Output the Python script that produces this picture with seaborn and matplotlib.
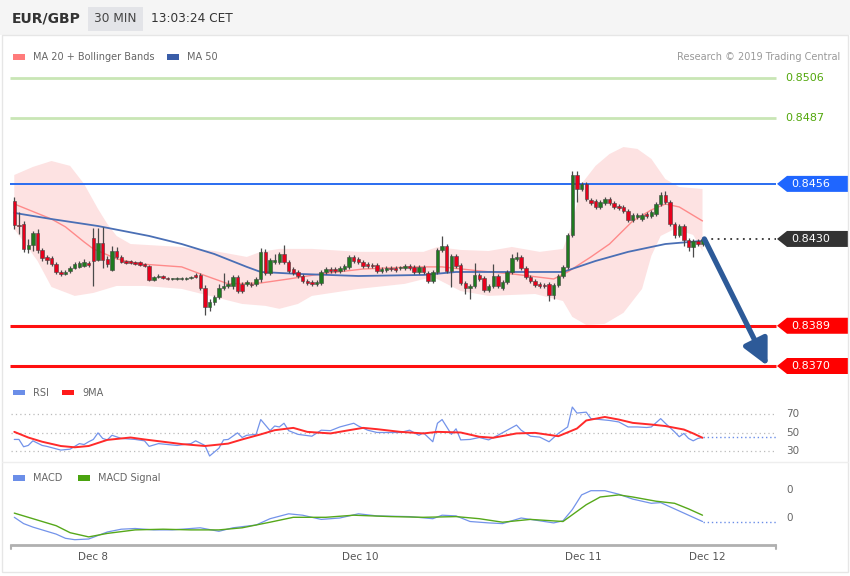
import matplotlib
matplotlib.use("Agg")
import matplotlib.pyplot as plt
from matplotlib.patches import Rectangle, Polygon
import numpy as np
import seaborn as sns

sns.set_theme(style="white")
plt.rcParams["font.family"] = ["DejaVu Sans"]

# EUR/GBP 30 min candles (price)
opens = [
    0.84479, 0.84366, 0.84371, 0.84253, 0.84272, 0.84328, 0.84248, 0.84215, 0.84210, 0.84182,
    0.84144, 0.84135, 0.84149, 0.84163, 0.84168, 0.84173, 0.84187, 0.84305, 0.84201, 0.84281,
    0.84206, 0.84154, 0.84243, 0.84215, 0.84196, 0.84196, 0.84191, 0.84191, 0.84182, 0.84173,
    0.84106, 0.84121, 0.84125, 0.84116, 0.84111, 0.84111, 0.84111, 0.84111, 0.84116, 0.84130,
    0.84130, 0.84069, 0.83979, 0.84003, 0.84026, 0.84069, 0.84078, 0.84078, 0.84121, 0.84088,
    0.84088, 0.84088, 0.84088, 0.84111, 0.84239, 0.84140, 0.84191, 0.84191, 0.84229, 0.84191,
    0.84158, 0.84144, 0.84125, 0.84102, 0.84097, 0.84088, 0.84092, 0.84144, 0.84158, 0.84158,
    0.84149, 0.84158, 0.84168, 0.84215, 0.84206, 0.84191, 0.84182, 0.84177, 0.84177, 0.84149,
    0.84154, 0.84163, 0.84163, 0.84163, 0.84163, 0.84173, 0.84168, 0.84144, 0.84168, 0.84140,
    0.84102, 0.84144, 0.84248, 0.84267, 0.84149, 0.84220, 0.84177, 0.84092, 0.84069, 0.84078,
    0.84130, 0.84116, 0.84059, 0.84078, 0.84125, 0.84069, 0.84097, 0.84144, 0.84206, 0.84215,
    0.84163, 0.84121, 0.84102, 0.84088, 0.84083, 0.84088, 0.84036, 0.84083, 0.84125, 0.84168,
    0.84319, 0.84602, 0.84536, 0.84560, 0.84484, 0.84479, 0.84451, 0.84470, 0.84489, 0.84470,
    0.84456, 0.84451, 0.84432, 0.84390, 0.84404, 0.84394, 0.84418, 0.84409, 0.84418, 0.84465,
    0.84508, 0.84475, 0.84371, 0.84319, 0.84361, 0.84295, 0.84262, 0.84291, 0.84276,
]
closes = [
    0.84366, 0.84361, 0.84253, 0.84272, 0.84328, 0.84248, 0.84210, 0.84201, 0.84182, 0.84144,
    0.84135, 0.84144, 0.84163, 0.84182, 0.84187, 0.84191, 0.84177, 0.84196, 0.84281, 0.84201,
    0.84182, 0.84243, 0.84215, 0.84191, 0.84187, 0.84187, 0.84182, 0.84177, 0.84173, 0.84106,
    0.84121, 0.84125, 0.84116, 0.84111, 0.84111, 0.84116, 0.84116, 0.84116, 0.84121, 0.84121,
    0.84069, 0.83979, 0.84003, 0.84026, 0.84069, 0.84078, 0.84088, 0.84121, 0.84054, 0.84054,
    0.84097, 0.84083, 0.84111, 0.84239, 0.84140, 0.84201, 0.84201, 0.84229, 0.84191, 0.84149,
    0.84140, 0.84125, 0.84102, 0.84092, 0.84088, 0.84097, 0.84144, 0.84158, 0.84149, 0.84149,
    0.84163, 0.84173, 0.84215, 0.84196, 0.84191, 0.84173, 0.84173, 0.84173, 0.84149, 0.84158,
    0.84163, 0.84158, 0.84154, 0.84163, 0.84173, 0.84163, 0.84144, 0.84168, 0.84144, 0.84102,
    0.84144, 0.84248, 0.84267, 0.84149, 0.84220, 0.84173, 0.84092, 0.84069, 0.84078, 0.84130,
    0.84111, 0.84059, 0.84078, 0.84125, 0.84078, 0.84097, 0.84144, 0.84210, 0.84215, 0.84163,
    0.84121, 0.84102, 0.84083, 0.84078, 0.84078, 0.84036, 0.84083, 0.84125, 0.84168, 0.84319,
    0.84602, 0.84536, 0.84560, 0.84489, 0.84470, 0.84451, 0.84475, 0.84489, 0.84470, 0.84451,
    0.84446, 0.84432, 0.84390, 0.84413, 0.84413, 0.84413, 0.84409, 0.84427, 0.84465, 0.84508,
    0.84475, 0.84371, 0.84319, 0.84361, 0.84295, 0.84262, 0.84291, 0.84276, 0.84300,
]
highs = [
    0.84498, 0.84427, 0.84385, 0.84300, 0.84338, 0.84347, 0.84258, 0.84224, 0.84220, 0.84191,
    0.84154, 0.84154, 0.84173, 0.84191, 0.84196, 0.84206, 0.84196, 0.84352, 0.84352, 0.84357,
    0.84220, 0.84267, 0.84262, 0.84224, 0.84201, 0.84201, 0.84196, 0.84196, 0.84187, 0.84177,
    0.84125, 0.84135, 0.84130, 0.84121, 0.84116, 0.84121, 0.84121, 0.84121, 0.84125, 0.84140,
    0.84140, 0.84083, 0.84017, 0.84036, 0.84088, 0.84140, 0.84106, 0.84130, 0.84130, 0.84097,
    0.84106, 0.84097, 0.84121, 0.84258, 0.84253, 0.84210, 0.84229, 0.84239, 0.84272, 0.84201,
    0.84168, 0.84154, 0.84135, 0.84111, 0.84106, 0.84106, 0.84154, 0.84168, 0.84168, 0.84168,
    0.84173, 0.84182, 0.84224, 0.84224, 0.84215, 0.84201, 0.84191, 0.84187, 0.84187, 0.84168,
    0.84173, 0.84173, 0.84173, 0.84173, 0.84182, 0.84182, 0.84177, 0.84177, 0.84177, 0.84149,
    0.84154, 0.84258, 0.84314, 0.84276, 0.84229, 0.84229, 0.84187, 0.84102, 0.84088, 0.84187,
    0.84140, 0.84125, 0.84088, 0.84182, 0.84135, 0.84106, 0.84154, 0.84229, 0.84239, 0.84224,
    0.84173, 0.84130, 0.84111, 0.84097, 0.84092, 0.84097, 0.84092, 0.84135, 0.84177, 0.84328,
    0.84621, 0.84621, 0.84569, 0.84569, 0.84494, 0.84489, 0.84484, 0.84498, 0.84498, 0.84479,
    0.84465, 0.84460, 0.84442, 0.84423, 0.84423, 0.84423, 0.84427, 0.84437, 0.84475, 0.84522,
    0.84527, 0.84484, 0.84380, 0.84371, 0.84371, 0.84305, 0.84300, 0.84300, 0.84309,
]
lows = [
    0.84347, 0.84324, 0.84239, 0.84234, 0.84243, 0.84234, 0.84196, 0.84182, 0.84173, 0.84135,
    0.84125, 0.84130, 0.84140, 0.84158, 0.84163, 0.84168, 0.84168, 0.84078, 0.84196, 0.84163,
    0.84168, 0.84149, 0.84206, 0.84187, 0.84182, 0.84182, 0.84177, 0.84173, 0.84168, 0.84102,
    0.84102, 0.84116, 0.84111, 0.84106, 0.84106, 0.84106, 0.84106, 0.84106, 0.84111, 0.84116,
    0.84059, 0.83941, 0.83960, 0.83988, 0.84017, 0.84059, 0.84069, 0.84064, 0.84045, 0.84045,
    0.84078, 0.84073, 0.84078, 0.84097, 0.84130, 0.84130, 0.84182, 0.84182, 0.84182, 0.84140,
    0.84130, 0.84116, 0.84092, 0.84083, 0.84078, 0.84078, 0.84083, 0.84135, 0.84140, 0.84140,
    0.84140, 0.84149, 0.84158, 0.84187, 0.84182, 0.84163, 0.84163, 0.84163, 0.84140, 0.84140,
    0.84144, 0.84149, 0.84144, 0.84154, 0.84154, 0.84154, 0.84135, 0.84135, 0.84135, 0.84092,
    0.84092, 0.84135, 0.84239, 0.84140, 0.84073, 0.84163, 0.84083, 0.84040, 0.84017, 0.84069,
    0.84102, 0.84050, 0.84050, 0.84069, 0.84069, 0.84059, 0.84088, 0.84135, 0.84196, 0.84154,
    0.84111, 0.84092, 0.84073, 0.84069, 0.84069, 0.84007, 0.84017, 0.84073, 0.84116, 0.84158,
    0.84309, 0.84475, 0.84527, 0.84479, 0.84460, 0.84442, 0.84442, 0.84460, 0.84460, 0.84442,
    0.84437, 0.84423, 0.84380, 0.84380, 0.84394, 0.84385, 0.84399, 0.84399, 0.84409, 0.84456,
    0.84465, 0.84361, 0.84305, 0.84309, 0.84267, 0.84243, 0.84215, 0.84267, 0.84267,
]

# moving averages / bands, read at candle indices
ma20_idx = [0, 8, 11, 15, 17, 22, 27, 36, 40, 46, 53, 59, 66, 75, 86, 92, 100, 107, 116,
            119, 124, 128, 133, 137, 140, 143, 148]
ma20 = [0.84465, 0.84394, 0.84357, 0.84286, 0.84253, 0.84206, 0.84182, 0.84168, 0.84135,
        0.84088, 0.84092, 0.84111, 0.84135, 0.84158, 0.84168, 0.84168, 0.84149, 0.84135,
        0.84111, 0.84144, 0.84215, 0.84276, 0.84385, 0.84437, 0.84465, 0.84451, 0.84385]
ma50_idx = [0, 8, 18, 29, 36, 43, 50, 53, 61, 74, 88, 95, 112, 118, 125, 132, 140, 148]
ma50 = [0.84423, 0.84394, 0.84361, 0.84314, 0.84276, 0.84229, 0.84168, 0.84144, 0.84135,
        0.84125, 0.84130, 0.84144, 0.84144, 0.84144, 0.84196, 0.84239, 0.84276, 0.84291]
bb_up_idx = [0, 4, 8, 12, 15, 18, 20, 22, 25, 36, 43, 50, 53, 57, 64, 74, 88, 91, 96, 102,
             107, 113, 118, 120, 122, 125, 128, 131, 134, 137, 140, 143, 148]
bb_up = [0.84602, 0.84640, 0.84668, 0.84645, 0.84560, 0.84442, 0.84371, 0.84314, 0.84276,
         0.84262, 0.84243, 0.84215, 0.84239, 0.84253, 0.84253, 0.84239, 0.84239, 0.84262,
         0.84248, 0.84243, 0.84262, 0.84239, 0.84253, 0.84371, 0.84560, 0.84645, 0.84701,
         0.84734, 0.84725, 0.84678, 0.84583, 0.84545, 0.84536]
bb_lo_idx = [0, 5, 8, 13, 17, 22, 28, 36, 43, 49, 54, 57, 61, 64, 74, 84, 90, 96, 102, 112,
             118, 120, 123, 127, 131, 135, 137, 139, 142, 146, 148]
bb_lo = [0.84347, 0.84196, 0.84073, 0.84031, 0.84045, 0.84078, 0.84078, 0.84064, 0.84026,
         0.83993, 0.83984, 0.83970, 0.83993, 0.84031, 0.84064, 0.84088, 0.84121, 0.84054,
         0.84031, 0.84040, 0.84007, 0.83932, 0.83894, 0.83899, 0.83951, 0.84064, 0.84220,
         0.84314, 0.84347, 0.84319, 0.84243]

# key levels
resistances = [0.8506, 0.8487]
pivot = 0.8456
supports = [0.8389, 0.8370]
last_price = 0.8430

# RSI and its 9 period MA
rsi_idx = [0, 1, 2, 3, 4, 6, 7, 10, 12, 13, 14, 15, 16, 17, 18, 19, 20, 21, 23, 26,
           28, 29, 31, 33, 35, 38, 39, 41, 42, 44, 45, 46, 48, 49, 50, 52, 53, 55, 56, 57,
           58, 59, 61, 64, 66, 68, 70, 73, 74, 76, 78, 81, 83, 85, 87, 88, 90, 91, 92, 94,
           95, 96, 98, 100, 102, 104, 106, 108, 109, 111, 113, 115, 117, 119, 120, 121, 123,
           124, 126, 128, 130, 132, 134, 136, 137, 139, 140, 142, 143, 144, 145, 146, 147, 148]
rsi = [42.5, 42.5, 34.6, 36, 41, 36, 35, 31, 32, 35, 38, 37, 40, 42.5, 49.6, 43.6, 42, 47,
       43.6, 42.5, 41, 35, 38, 37, 36, 38, 41, 36, 24.6, 33, 42, 42.5, 49.6, 44.6, 47, 48,
       64, 52, 57, 56, 60, 52, 48, 46, 52.5, 52, 56, 60, 57, 52.5, 50, 50, 50, 52.5, 47,
       49.6, 40, 60, 64, 48, 54, 42, 42.5, 44.6, 42, 47, 52.5, 58, 52.5, 46, 45, 40, 49,
       56, 77.5, 71, 72, 65, 64, 63, 61.4, 56, 56, 55.4, 56, 65, 60, 50.7, 45.4, 49, 43.6,
       41, 43.6, 44.6]
rsi_ma_idx = [0, 3, 6, 10, 13, 16, 20, 25, 28, 32, 36, 41, 46, 49, 53, 56, 60, 63, 68, 72,
              75, 78, 83, 88, 91, 96, 100, 103, 108, 112, 117, 121, 123, 127, 130, 133, 137,
              140, 144, 146, 148]
rsi_ma = [50.7, 44.6, 40, 35.4, 34, 35.4, 42, 44.6, 42.5, 40, 37.5, 35.4, 38, 42.5, 48,
          52.5, 55, 50.7, 49, 52.5, 55, 53.6, 50.7, 49, 50.7, 50, 45.4, 44.3, 49, 49.6, 46,
          54.3, 63, 66.8, 64, 60.4, 58.6, 57, 53.2, 49, 44.3]
rsi_levels = [70, 50, 30]

# MACD and signal
macd_idx = [0, 2, 4, 6, 9, 11, 13, 16, 18, 20, 23, 26, 30, 34, 40, 44, 47, 52, 55, 59, 62,
            66, 70, 74, 78, 85, 90, 92, 95, 98, 102, 105, 109, 112, 116, 118, 120, 122, 124,
            127, 130, 133, 137, 139, 143, 146, 148]
macd = [0.00001, -0.00008, -0.00013, -0.00017, -0.00023, -0.00029, -0.00031, -0.00030,
        -0.00025, -0.00020, -0.00016, -0.00015, -0.00017, -0.00017, -0.00014, -0.00019,
        -0.00014, -0.00010, -0.00001, 0.00006, 0.00004, -0.00002, 0.0, 0.00006, 0.00003,
        0.00002, -0.00001, 0.00004, 0.00003, -0.00005, -0.00007, -0.00008, 0.0, -0.00003,
        -0.00007, -0.00004, 0.00012, 0.00033, 0.00039, 0.00039, 0.00034, 0.00027, 0.00021,
        0.00022, 0.00010, 0.00001, -0.00005]
signal_idx = [0, 4, 9, 12, 16, 20, 26, 32, 38, 44, 49, 55, 60, 67, 73, 81, 88, 95, 100, 105,
              111, 118, 123, 126, 130, 133, 138, 142, 145, 148]
signal = [0.00007, -0.00001, -0.00011, -0.00021, -0.00027, -0.00022, -0.00017, -0.00016,
          -0.00017, -0.00017, -0.00014, -0.00006, 0.00001, 0.00001, 0.00004, 0.00002,
          0.00001, 0.00002, -0.00001, -0.00006, -0.00002, -0.00005, 0.00019, 0.00030,
          0.00033, 0.00030, 0.00024, 0.00021, 0.00013, 0.00004]
macd_ticks = [0.0004, 0.0]

date_ticks = [17, 74.5, 122.3, 149]
date_labels = ["Dec 8", "Dec 10", "Dec 11", "Dec 12"]

# layout in figure pixels
W, H = 850, 576
X0, DX = 14.3, 4.65
RIGHT = 776


def px_idx(px):
    return (px - X0) / DX


fig = plt.figure(figsize=(W / 100, H / 100), dpi=100)
ov = fig.add_axes([0, 0, 1, 1])
ov.set_xlim(0, W)
ov.set_ylim(H, 0)
ov.axis("off")


def panel(top, bottom, v_top, v_bottom):
    ax = fig.add_axes([0, 1 - bottom / H, 1, (bottom - top) / H])
    ax.set_xlim(px_idx(0), px_idx(W))
    ax.set_ylim(v_bottom, v_top)
    ax.axis("off")
    return ax


def to_ov(ax, x, y):
    return ov.transData.inverted().transform(ax.transData.transform((x, y)))


k = 0.0136 / 288
ax = panel(65, 378, 0.8506 + 13 * k, 0.8370 - 12 * k)
ax_rsi = panel(395, 462, 70 + 19 * 40 / 37, 30 - 11 * 40 / 37)
ax_macd = panel(468, 544, 0.0004 + 22 * 0.0004 / 28, -26 * 0.0004 / 28)

x_left, x_right = px_idx(10), px_idx(RIGHT)

# bands and averages
ax.fill(np.r_[bb_up_idx, bb_lo_idx[::-1]], np.r_[bb_up, bb_lo[::-1]],
        color="#fde2e2", lw=0, zorder=1)
sns.lineplot(x=ma20_idx, y=ma20, ax=ax, color="#ff8a8a", lw=1, zorder=2)
sns.lineplot(x=ma50_idx, y=ma50, ax=ax, color="#4a6fb5", lw=1.3, zorder=2)

# level lines
ax.hlines(resistances, x_left, x_right, colors="#c9e6b5", lw=2, zorder=1.5)
ax.hlines(pivot, x_left, x_right, colors="#2a6cf0", lw=1.4, zorder=1.5)
ax.hlines(supports, x_left, x_right, colors="#ff1010", lw=2.2, zorder=1.5)

# candles
idx = np.arange(len(closes))
o, c, h, l = map(np.array, (opens, closes, highs, lows))
up = c >= o
ax.vlines(idx, l, h, colors="#4a4a4a", lw=0.9, zorder=3)
body = np.maximum(np.abs(c - o), 0.00004)
ax.bar(idx, body, bottom=np.minimum(o, c), width=0.75,
       color=np.where(up, "#1f7a1f", "#e8001c"), edgecolor="#444444", lw=0.4, zorder=4)

ax.plot([idx[-1] + 0.5, x_right], [last_price, last_price], color="#333333",
        ls=(0, (1, 2.5)), lw=1.3, zorder=2)

# forecast arrow
ax.annotate("", xy=(idx[-1] + 14.0, supports[1]), xytext=(idx[-1] + 0.4, last_price),
            arrowprops=dict(arrowstyle="-|>,head_length=1.3,head_width=0.65",
                            mutation_scale=12, color="#2d5a98", lw=3.8,
                            shrinkA=0, shrinkB=0), zorder=6)

# price tags
for lv in resistances:
    _, y = to_ov(ax, 0, lv)
    ov.text(785, y, f"{lv:.4f}", color="#52a70c", fontsize=8, va="center")


def tag(level, color):
    _, y = to_ov(ax, 0, level)
    ov.add_patch(Polygon([(777, y), (787, y - 8), (848, y - 8), (848, y + 8), (787, y + 8)],
                         closed=True, fc=color, ec="none"))
    ov.text(791, y, f"{level:.4f}", color="white", fontsize=8, va="center")


tag(pivot, "#1f66ff")
tag(last_price, "#333333")
for lv in supports:
    tag(lv, "#ff0000")

# RSI panel
ax_rsi.hlines(rsi_levels, px_idx(11), x_right, colors="#bbbbbb", linestyles=(0, (1, 2.5)), lw=0.9)
sns.lineplot(x=rsi_idx, y=rsi, ax=ax_rsi, color="#7393ea", lw=0.9)
sns.lineplot(x=rsi_ma_idx, y=rsi_ma, ax=ax_rsi, color="#ff2a2a", lw=1.4)
ax_rsi.plot([rsi_idx[-1], x_right], [rsi[-1], rsi[-1]], color="#6b8ee8", ls=(0, (1, 2)), lw=1)
for lv in rsi_levels:
    _, y = to_ov(ax_rsi, 0, lv)
    ov.text(786, y, str(lv), color="#666666", fontsize=7.5, va="center")

# MACD panel
sns.lineplot(x=macd_idx, y=macd, ax=ax_macd, color="#7393ea", lw=0.9)
sns.lineplot(x=signal_idx, y=signal, ax=ax_macd, color="#56a81a", lw=1)
ax_macd.plot([macd_idx[-1], x_right], [macd[-1], macd[-1]], color="#6b8ee8", ls=(0, (1, 2)), lw=1)
for tv in macd_ticks:
    _, y = to_ov(ax_macd, 0, tv)
    ov.text(786, y, f"{tv:.0f}", color="#666666", fontsize=7.5, va="center")

# time axis
ov.plot([11, RIGHT], [545, 545], color="#b0b0b0", lw=2, solid_capstyle="butt")
ov.plot([11, 11], [545, 549], color="#b0b0b0", lw=1.5)
ov.plot([RIGHT, RIGHT], [545, 549], color="#b0b0b0", lw=1.5)
for pos, lab in zip(date_ticks, date_labels):
    x, _ = to_ov(ax_macd, pos, 0)
    ov.text(x, 557, lab, color="#555555", fontsize=7.5, ha="center", va="center")

# header and legends
ov.add_patch(Rectangle((0, 0), W, 35, fc="#f5f5f5", ec="none"))
ov.text(12, 18, "EUR/GBP", fontsize=10, fontweight="bold", color="#333333", va="center")
ov.add_patch(Rectangle((88, 7), 55, 24, fc="#e3e4e8", ec="none"))
ov.text(115.5, 19, "30 MIN", fontsize=8.7, color="#444444", ha="center", va="center")
ov.text(151, 19, "13:03:24 CET", fontsize=8.7, color="#333333", va="center")

ov.add_patch(Rectangle((2, 35), 846, 537, fill=False, ec="#e6e6e6", lw=1))
ov.plot([2, 848], [462, 462], color="#eeeeee", lw=1)


def legend_item(x, y, color, text):
    ov.add_patch(Rectangle((x, y - 2.8), 12, 5.6, fc=color, ec="none"))
    ov.text(x + 20, y, text, fontsize=7, color="#666666", va="center")


legend_item(13, 57, "#ff7b7b", "MA 20 + Bollinger Bands")
legend_item(167, 57, "#3a5da8", "MA 50")
ov.text(840, 57, "Research © 2019 Trading Central", fontsize=7, color="#999999",
        ha="right", va="center")
legend_item(13, 392.5, "#6b8ee8", "RSI")
legend_item(62, 392.5, "#ff1a1a", "9MA")
legend_item(13, 478, "#6b8ee8", "MACD")
legend_item(78, 478, "#4aa30f", "MACD Signal")

fig.savefig("out.png", dpi=100)
